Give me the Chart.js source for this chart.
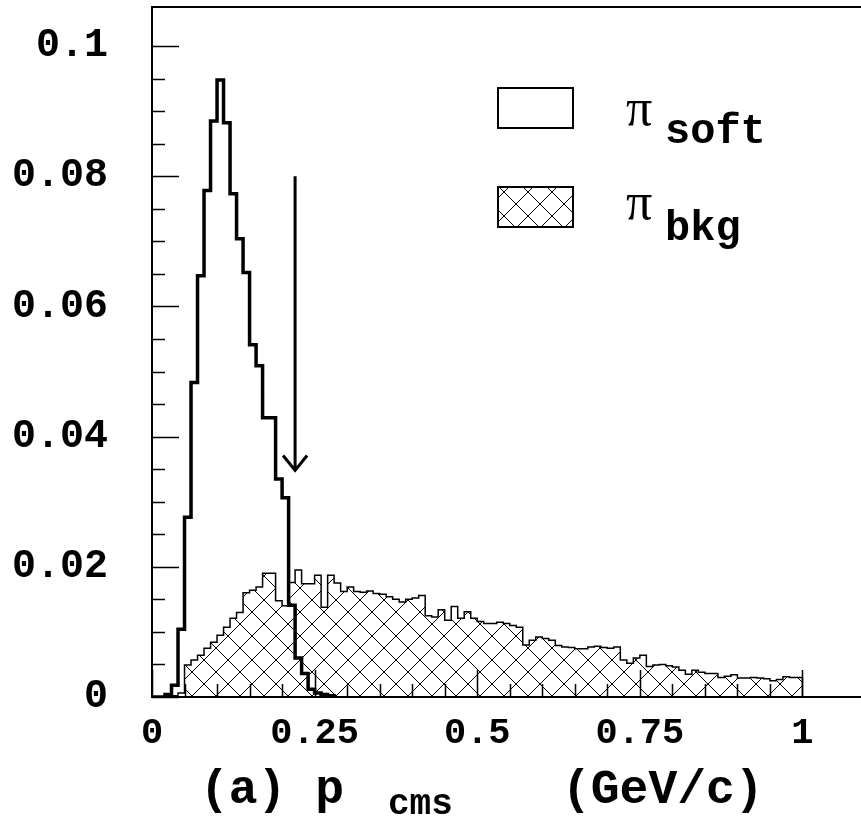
<!DOCTYPE html>
<html lang="en">
<head>
    <meta charset="UTF-8">
    <title>p cms - soft pion vs background</title>
    <script src="https://cdn.jsdelivr.net/npm/chart.js"></script>
    <style>
        html, body {
            margin: 0;
            padding: 0;
            background: #fff;
            overflow: hidden;
        }
        #wrap {
            position: relative;
            width: 861px;
            height: 818px;
        }
    </style>
</head>
<body>
    <div id="wrap"><canvas id="chart" width="861" height="818"></canvas></div>

    <script>
        // histogram binning: 0.01 GeV/c bins starting at 0
        const binLow = 0;
        const binWidth = 0.01;

        // pi_soft (bins 0.00 .. 0.27)
        const softValues = [
            0, 0, 0.0004, 0.0018, 0.0104, 0.0276, 0.0483, 0.0647, 0.0778, 0.0885,
            0.0948, 0.0882, 0.0773, 0.0704, 0.0652, 0.0541, 0.0509, 0.0429, 0.0429, 0.0335,
            0.0306, 0.0141, 0.0060, 0.0036, 0.0012, 0.0006, 0.0004, 0.0002
        ];

        // pi_bkg (bins 0.00 .. 0.99)
        const bkgValues = [
            0, 0, 0, 0.0002, 0.0006, 0.0049, 0.0057, 0.0064, 0.0075, 0.0084,
            0.0095, 0.0107, 0.0121, 0.0130, 0.0160, 0.0164, 0.0169, 0.0190, 0.0190, 0.0148,
            0.0140, 0.0176, 0.0195, 0.0174, 0.0174, 0.0187, 0.0138, 0.0187, 0.0175, 0.0162,
            0.0169, 0.0162, 0.0161, 0.0163, 0.0159, 0.0158, 0.0154, 0.0150, 0.0146, 0.0150,
            0.0152, 0.0156, 0.0125, 0.0123, 0.0134, 0.0118, 0.0139, 0.0121, 0.0131, 0.0121,
            0.0116, 0.0113, 0.0113, 0.0115, 0.0113, 0.0110, 0.0107, 0.0080, 0.0087, 0.0092,
            0.0090, 0.0087, 0.0079, 0.0077, 0.0076, 0.0074, 0.0074, 0.0077, 0.0078, 0.0076,
            0.0075, 0.0077, 0.0057, 0.0052, 0.0060, 0.0064, 0.0047, 0.0049, 0.0050, 0.0048,
            0.0046, 0.0041, 0.0035, 0.0041, 0.0038, 0.0036, 0.0036, 0.0030, 0.0032, 0.0034,
            0.0029, 0.0029, 0.0030, 0.0029, 0.0028, 0.0025, 0.0027, 0.0031, 0.0030, 0.0030
        ];

        const xMajorTicks = [0, 0.25, 0.5, 0.75, 1];
        const yMajorTicks = [0, 0.02, 0.04, 0.06, 0.08, 0.1];

        // cut arrow
        const cutValue = 0.22;
        const arrowTop = 0.080;
        const arrowTip = 0.0348;

        const monoFont = "'Liberation Mono', 'Courier New', monospace";
        const serifFont = "'Liberation Serif', 'Times New Roman', serif";

        function histPoints(values) {
            // step points at the low edge of each bin, closed at the last high edge
            const pts = values.map((v, i) => ({ x: binLow + i * binWidth, y: v }));
            pts.push({ x: binLow + values.length * binWidth, y: 0 });
            return pts;
        }

        function hatchPattern(size) {
            const c = document.createElement('canvas');
            c.width = size;
            c.height = size;
            const g = c.getContext('2d');
            g.fillStyle = '#fff';
            g.fillRect(0, 0, size, size);
            g.strokeStyle = '#000';
            g.lineWidth = 1;
            g.beginPath();
            g.moveTo(-2, -2); g.lineTo(size + 2, size + 2);
            g.moveTo(-2, size + 2); g.lineTo(size + 2, -2);
            g.stroke();
            return g.createPattern(c, 'repeat');
        }

        const hatch = hatchPattern(24);

        // frame, inner tick marks, arrow, legend and axis title
        const decorPlugin = {
            id: 'decor',
            afterDatasetsDraw(chart) {
                const { ctx, chartArea: a, scales: { x, y } } = chart;
                ctx.save();
                ctx.strokeStyle = '#000';
                ctx.fillStyle = '#000';

                // frame
                ctx.lineWidth = 2;
                ctx.beginPath();
                ctx.moveTo(a.right + 5, a.top);
                ctx.lineTo(a.left, a.top);
                ctx.lineTo(a.left, a.bottom);
                ctx.lineTo(a.right + 5, a.bottom);
                ctx.stroke();

                // inner ticks
                ctx.lineWidth = 1.5;
                ctx.beginPath();
                y.ticks.forEach(t => {
                    const v = Math.round(t.value * 1000) / 1000;
                    if (Math.abs(v / 0.005 - Math.round(v / 0.005)) > 1e-6) return;
                    const len = yMajorTicks.includes(v) ? 27 : 13;
                    const py = Math.round(y.getPixelForValue(t.value)) + 0.5;
                    ctx.moveTo(a.left, py);
                    ctx.lineTo(a.left + len, py);
                });
                x.ticks.forEach(t => {
                    const v = Math.round(t.value * 100) / 100;
                    if (Math.abs(v / 0.05 - Math.round(v / 0.05)) > 1e-6) return;
                    const len = xMajorTicks.includes(v) ? 27 : 13;
                    const px = Math.round(x.getPixelForValue(t.value)) + 0.5;
                    ctx.moveTo(px, a.bottom);
                    ctx.lineTo(px, a.bottom - len);
                });
                ctx.stroke();

                // cut arrow
                const ax = x.getPixelForValue(cutValue);
                const ay0 = y.getPixelForValue(arrowTop);
                const ay1 = y.getPixelForValue(arrowTip);
                ctx.lineWidth = 3;
                ctx.beginPath();
                ctx.moveTo(ax, ay0);
                ctx.lineTo(ax, ay1);
                ctx.moveTo(ax - 12, ay1 - 15);
                ctx.lineTo(ax, ay1);
                ctx.lineTo(ax + 12, ay1 - 15);
                ctx.stroke();

                // legend
                ctx.lineWidth = 2;
                ctx.strokeRect(498, 88, 75, 40);
                ctx.fillStyle = hatch;
                ctx.fillRect(498, 187, 75, 40);
                ctx.strokeRect(498, 187, 75, 40);
                ctx.fillStyle = '#000';
                ctx.textBaseline = 'alphabetic';
                ctx.textAlign = 'left';
                ctx.font = `52px ${serifFont}`;
                ctx.fillText('\u03c0', 626, 125);
                ctx.fillText('\u03c0', 626, 219);
                ctx.font = `bold 42px ${monoFont}`;
                ctx.fillText('soft', 665, 143);
                ctx.fillText('bkg', 665, 240);

                // axis title
                ctx.font = `bold 48px ${monoFont}`;
                ctx.fillText('(a) p', 200, 803);
                ctx.fillText('(GeV/c)', 562, 803);
                ctx.font = `bold 36px ${monoFont}`;
                ctx.fillText('cms', 388, 814);
                ctx.restore();
            }
        };

        const ctx = document.getElementById('chart').getContext('2d');
        const chart = new Chart(ctx, {
            type: 'line',
            data: {
                datasets: [
                    {
                        label: 'soft',
                        data: histPoints(softValues),
                        stepped: 'before',
                        borderColor: '#000',
                        borderWidth: 3.5,
                        pointRadius: 0,
                        fill: false
                    },
                    {
                        label: 'bkg',
                        data: histPoints(bkgValues),
                        stepped: 'before',
                        borderColor: '#000',
                        borderWidth: 1.5,
                        backgroundColor: hatch,
                        pointRadius: 0,
                        fill: 'origin'
                    }
                ]
            },
            options: {
                responsive: false,
                animation: false,
                parsing: false,
                layout: { padding: { left: 0, right: 0, top: 7, bottom: 0 } },
                plugins: {
                    legend: { display: false },
                    tooltip: { enabled: false }
                },
                scales: {
                    x: {
                        type: 'linear',
                        min: 0,
                        max: 1.09,
                        afterFit: s => {
                            s.height = 121;
                            s.paddingLeft = 0;
                            s.paddingRight = 0;
                        },
                        border: { display: false },
                        grid: { display: false, drawTicks: false },
                        ticks: {
                            stepSize: 0.05,
                            autoSkip: false,
                            maxRotation: 0,
                            padding: 14,
                            color: '#000',
                            font: { family: monoFont, size: 37, weight: 'bold' },
                            callback: v => {
                                const r = Math.round(v * 100) / 100;
                                return xMajorTicks.includes(r) ? String(r) : '';
                            }
                        }
                    },
                    y: {
                        min: 0,
                        max: 0.106,
                        afterFit: s => {
                            s.width = 152;
                            s.paddingTop = 0;
                            s.paddingBottom = 0;
                        },
                        border: { display: false },
                        grid: { display: false, drawTicks: false },
                        ticks: {
                            stepSize: 0.005,
                            autoSkip: false,
                            padding: 44,
                            color: '#000',
                            font: { family: monoFont, size: 40, weight: 'bold' },
                            callback: v => {
                                const r = Math.round(v * 1000) / 1000;
                                return yMajorTicks.includes(r) ? String(r) : '';
                            }
                        }
                    }
                }
            },
            plugins: [decorPlugin]
        });
    </script>
</body>
</html>
